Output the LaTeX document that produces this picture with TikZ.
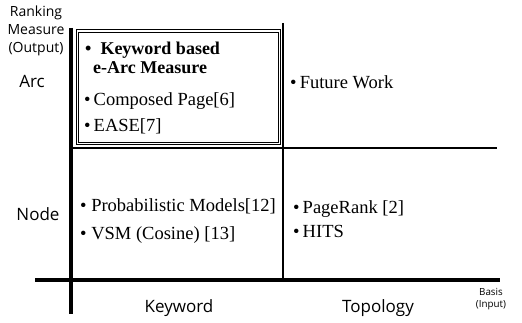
\documentclass[tikz,border=0pt]{standalone}
\usepackage{fontspec}
\setmainfont{Liberation Serif}
\newfontfamily\labfont{Open Sans}
\begin{document}
\begin{tikzpicture}[x=1pt,y=-1pt,
  item/.style={anchor=base west,inner sep=0pt,font=\fontsize{18.5}{20}\selectfont},
  bitem/.style={anchor=base west,inner sep=0pt,font=\bfseries\fontsize{18}{20}\selectfont},
  biglab/.style={anchor=base,inner sep=0pt,font=\labfont\fontsize{17}{18}\selectfont},
  axlab/.style={inner sep=0pt,align=center,font=\labfont\fontsize{14}{18}\selectfont},
  smlab/.style={inner sep=0pt,align=center,font=\labfont\fontsize{9.8}{12.5}\selectfont},
  axis/.style={line width=3.6pt},
  grid/.style={line width=1.3pt}]
\useasboundingbox (0,0) rectangle (522,323);
% coordinates
\coordinate (vtop) at (71,28);
\coordinate (vbot) at (71,314);
\coordinate (hl) at (35,280);
\coordinate (hr) at (500,280);
\coordinate (mvt) at (283,23);
\coordinate (mvb) at (283,282);
\coordinate (mhl) at (71,148);
\coordinate (mhr) at (497,148);
% lines
\draw[grid] (mhl) -- (mhr);
\draw[grid] (mvt) -- (mvb);
\draw[axis] (vtop) -- (vbot);
\draw[axis] (hl) -- (hr);
% double box
\draw[line width=1pt,double,double distance=1.3pt] (77.5,31) rectangle (279.5,143.5);
% axis labels
\node[axlab,anchor=north] (rank) at (36,6) {Ranking\\Measure\\(Output)};
\node[biglab] (arc) at (32,88) {Arc};
\node[biglab] (node) at (38,221) {Node};
\node[biglab] (kw) at (179,312) {Keyword};
\node[biglab] (topo) at (378,312) {Topology};
\node[smlab,anchor=north] (basis) at (491,288) {Basis\\(Input)};
% items
\node[bitem] (i1) at (85,55) {\textbullet\ \ Keyword based};
\node[bitem] (i1b) at (93,74) {e-Arc Measure};
\node[item] (i2) at (84,106) {\textbullet\,Composed Page[6]};
\node[item] (i3) at (84,132) {\textbullet\,EASE[7]};
\node[item] (i4) at (290,89) {\textbullet\,Future Work};
\node[item] (i5) at (80,212) {\textbullet\ Probabilistic Models[12]};
\node[item] (i6) at (80,240) {\textbullet\ VSM (Cosine) [13]};
\node[item] (i7) at (293,214) {\textbullet\,PageRank [2]};
\node[item] (i8) at (293,237) {\textbullet\,HITS};
\end{tikzpicture}
\end{document}
